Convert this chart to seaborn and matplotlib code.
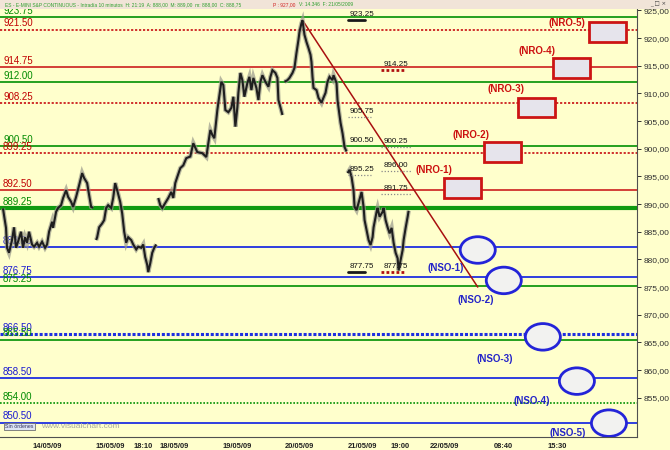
"""
ES e-mini S&P 10 min chart with support / resistance levels
"""

import numpy as np
import pandas as pd
import matplotlib
matplotlib.use("Agg")
import matplotlib.pyplot as plt
import seaborn as sns
from matplotlib.patches import Rectangle, Ellipse

# --- data ---
price_bar = [3, 4, 6, 7, 9, 12, 14, 16, 18, 21, 23, 25, 27, 29, 32, 34, 37, 39, 42, 45,
             47, 49, 52, 53, 56, 58, 61, 63, 66, 68, 71, 73, 76, 79, 82, 84, 87, 89, 91, 93,
             96, 97, 99, 102, 104, 106, 108, 111, 113, 115, 117, 120, 122, 124, 126, 128, 131,
             133, 136, 138, 141, 143, 145, 147, 148, 150, 152, 154, 156,
             158, 160, 162, 165, 168, 171, 173, 175, 177, 180, 183, 186, 190, 193, 197, 202,
             206, 208, 210, 212, 214, 217, 218, 221, 223, 225, 228, 231, 233, 235, 237, 238,
             240, 242, 244, 247, 249, 251, 253, 256, 258, 260, 262, 265, 268, 270, 272, 275,
             277, 278, 280, 282,
             284, 287, 289, 292, 294, 296, 298, 299, 301, 302, 304, 306, 308, 310, 311, 312,
             313, 316, 318, 321, 322, 325, 327, 329, 332, 333, 336, 337, 338, 340, 342, 344, 346,
             347, 349, 351, 353, 354, 356, 358, 361, 363, 364, 366, 368, 370, 372, 373, 376,
             377, 379, 382, 383, 385, 387, 389, 391, 393, 395, 397, 398, 400, 402, 403, 405,
             407, 408]
price = [889.2, 888.0, 885.7, 882.1, 881.2, 883.5, 885.8, 882.1, 883.2, 885.0, 882.1, 884.0,
         883.0, 885.0, 882.7, 882.3, 883.0, 882.3, 883.2, 882.1, 882.7, 885.0, 886.8, 885.7,
         888.6, 889.3, 889.8, 891.1, 892.5, 891.3, 890.4, 889.5, 891.3, 893.4, 895.6, 894.7,
         893.8, 891.6, 889.5, 889.3,
         883.5, 884.0, 885.8, 886.5, 887.1, 889.3, 889.8, 889.3, 891.1, 893.8, 892.5, 890.4,
         888.3, 885.0, 883.0, 884.0, 883.5, 882.7, 881.8, 882.3, 882.1, 882.7, 880.4, 879.0,
         877.7, 879.3, 881.2, 882.1, 882.7,
         891.1, 889.8, 889.3, 890.2, 891.1, 892.2, 891.1, 893.8, 894.9, 896.5, 897.0, 898.3,
         898.6, 901.0, 899.4, 899.2, 898.5, 901.0, 903.4, 902.5, 901.9, 907.0, 908.3, 912.1,
         911.5, 907.0, 906.6, 907.4, 909.4, 904.0, 907.5, 910.1, 913.7, 912.4, 909.4, 911.9,
         913.0, 910.6, 912.8, 911.0, 908.8, 912.1, 913.3, 912.1, 911.2, 913.0, 914.2, 913.7,
         912.8, 908.8, 907.5, 906.1,
         912.1, 912.4, 912.8, 913.7, 914.6, 917.3, 919.7, 921.1, 922.7, 923.2, 920.6, 919.3,
         918.2, 917.0, 915.7, 913.0, 911.0, 910.6, 909.2, 908.3, 908.8, 910.1, 912.1, 913.0,
         912.4, 913.3, 911.9, 908.8, 907.4, 904.7, 902.8, 900.3, 899.5,
         895.6, 896.2, 894.9, 892.5, 889.5, 888.9, 890.2, 892.2, 889.5, 887.1, 885.3, 883.5,
         882.6, 884.0, 885.8, 888.6, 889.3, 887.7, 888.6, 889.3, 887.1, 885.8, 884.7, 885.7,
         883.0, 881.2, 880.2, 878.0, 879.9, 881.7, 883.5, 885.7, 887.7, 888.8]
session_start = [3, 96, 158, 284, 347]

level_price = [923.75, 921.50, 914.75, 912.00, 908.25, 900.50, 899.25, 892.50, 889.25,
               882.25, 876.75, 875.25, 866.50, 865.50, 858.50, 854.00, 850.50]
level_kind = ['G', 'Rd', 'R', 'G', 'Rd', 'G', 'Rd', 'R', 'Gb',
              'B', 'B', 'G', 'Bd', 'G', 'B', 'Gd', 'B']

mark_left = [923.25, 905.75, 900.50, 895.25, 877.75]
mark_left_kind = ['black', 'dot', 'none', 'dot', 'black']
mark_right = [914.25, 900.25, 896.00, 891.75, 877.75]
mark_right_kind = ['red', 'dot', 'dot', 'dot', 'red']

trend_bar = [302, 477]
trend_price = [923.25, 875.0]

nro_names = ['(NRO-1)', '(NRO-2)', '(NRO-3)', '(NRO-4)', '(NRO-5)']
nro_bar = [462, 502, 536, 571, 607]
nro_price = [892.9, 899.4, 907.5, 914.6, 921.1]
nso_names = ['(NSO-1)', '(NSO-2)', '(NSO-3)', '(NSO-4)', '(NSO-5)']
nso_bar = [477, 503, 542, 576, 608]
nso_price = [881.7, 876.2, 866.0, 858.0, 850.4]

tick_bar = [32, 95, 133, 159, 222, 284, 347, 390, 429, 493, 547]
tick_text = ['14/05/09', '15/05/09', '18:10', '18/05/09', '19/05/09', '20/05/09',
             '21/05/09', '19:00', '22/05/09', '08:40', '15:30']

# label placement (layout only)
nro_label_pos = [(433, 896.2), (470, 902.5), (505, 910.8), (536, 917.7), (566, 922.8)]
nso_label_pos = [(445, 878.4), (475, 872.6), (494, 862.0), (531, 854.4), (567, 848.6)]

df = pd.DataFrame({'bar': price_bar, 'price': price})
df['session'] = np.searchsorted(session_start, df['bar'], side='right')

sns.set_style("white")
plt.rcParams['font.family'] = ['Liberation Sans', 'DejaVu Sans']

BG = '#FFFFCC'
fig = plt.figure(figsize=(6.7, 4.5), dpi=100, facecolor=BG)
ax = fig.add_axes([0, 13 / 450, 637 / 670, 428.5 / 450])
ax.set_facecolor(BG)
ax.set_xlim(0, 636)
ax.set_ylim(847.9, 925.35)

styles = {
    'G': dict(color='#009000', ls='-', lw=1.2),
    'Gb': dict(color='#109A10', ls='-', lw=3.0),
    'Gd': dict(color='#009000', ls=(0, (1, 1)), lw=1.2),
    'R': dict(color='#CC1F1F', ls='-', lw=1.2),
    'Rd': dict(color='#CC1F1F', ls=(0, (1.2, 1)), lw=1.3),
    'B': dict(color='#1F2FE0', ls='-', lw=1.3),
    'Bd': dict(color='#1F2FE0', ls=(0, (1, 0.6)), lw=2.2),
}
label_col = {'G': '#008A00', 'R': '#C00000', 'B': '#1A1AD0'}

for val, kind in zip(level_price, level_kind):
    ax.axhline(val, zorder=2, **styles[kind])
    ax.text(3, val + 0.25, f"{val:.2f}", color=label_col[kind[0]], fontsize=7,
            va='bottom', ha='left', zorder=3)

# trend line
ax.plot(trend_bar, trend_price, color='#A81010', lw=1.1, zorder=4)

# price bars: grey wick halo with black body
sns.lineplot(data=df, x='bar', y='price', units='session', estimator=None,
             color='#9A9A8C', lw=3.2, alpha=0.7, ax=ax, zorder=5,
             solid_joinstyle='miter', solid_capstyle='butt')
sns.lineplot(data=df, x='bar', y='price', units='session', estimator=None,
             color='#1E1E1E', lw=1.5, ax=ax, zorder=6,
             solid_joinstyle='miter', solid_capstyle='butt')

# price marks next to the bars
ul = {'black': dict(color='#1A1A1A', ls='-', lw=2.0),
      'red': dict(color='#B01010', ls=(0, (1, 0.8)), lw=2.0),
      'dot': dict(color='#8A8A8A', ls=(0, (1, 1.5)), lw=0.9)}
for vals, kinds, x0, x1 in [(mark_left, mark_left_kind, 347, 364),
                            (mark_right, mark_right_kind, 380, 405)]:
    for val, kind in zip(vals, kinds):
        if kind != 'none':
            ax.plot([x0, x1 if kind != 'dot' else x1 + 6], [val, val], zorder=6, **ul[kind])
        ax.text(x0 + 2 if x0 == 347 else x0 + 3, val + 0.35, f"{val:.2f}", fontsize=5.8,
                color='#111111', va='bottom', ha='left', zorder=7)

# resistance boxes
for name, bx, py, (lx, ly) in zip(nro_names, nro_bar, nro_price, nro_label_pos):
    ax.add_patch(Rectangle((bx - 18.5, py - 1.75), 37, 3.5, facecolor='#E6E4EC',
                           edgecolor='#CC1414', lw=2.0, zorder=8))
    ax.text(lx, ly, name, color='#CC1010', fontsize=7, fontweight='bold',
            ha='center', va='center', zorder=9)

# support ellipses
for name, bx, py, (lx, ly) in zip(nso_names, nso_bar, nso_price, nso_label_pos):
    ax.add_patch(Ellipse((bx, py), 35, 4.8, facecolor='#F2F2F0',
                         edgecolor='#2424D8', lw=2.0, zorder=8))
    ax.text(lx, ly, name, color='#2424C8', fontsize=7, fontweight='bold',
            ha='center', va='center', zorder=9)

# axes styling
sns.despine(ax=ax, left=True, top=True, right=False, bottom=False)
for side in ['right', 'bottom']:
    ax.spines[side].set_color('#505050')
    ax.spines[side].set_linewidth(0.8)
ax.yaxis.tick_right()
ax.set_yticks(np.arange(855, 926, 5))
ax.set_yticklabels([f"{v:.2f}".replace('.', ',') for v in np.arange(855, 926, 5)])
ax.tick_params(axis='y', direction='out', length=3, pad=2, labelsize=6,
               colors='#303030', width=0.7)
ax.set_xticks(tick_bar)
ax.set_xticklabels(tick_text)
ax.tick_params(axis='x', direction='out', length=3, pad=1, labelsize=5.4,
               colors='#202020', width=0.7)
for lab in ax.get_xticklabels():
    lab.set_ha('left')
    lab.set_fontweight('bold')
ax.set_xlabel('')
ax.set_ylabel('')
ax.grid(False)

# header strip
fig.add_artist(Rectangle((0, 1 - 8.5 / 450), 1, 8.5 / 450, transform=fig.transFigure,
                         facecolor='#F1E4D8', edgecolor='none'))
hy = 1 - 4.5 / 450
fig.text(5 / 670, hy, "ES - E-MINI S&P CONTINUOUS - Intradía 10 minutos  H: 21:19  A: 888,00  "
         "M: 889,00  m: 888,00  C: 888,75", fontsize=3.5, color='#2F9F2F', va='center')
fig.text(273 / 670, hy, "P : 927,00", fontsize=3.5, color='#D02020', va='center')
fig.text(299 / 670, hy, "V: 14.346  F: 21/05/2009", fontsize=3.5, color='#2F9F2F',
         va='center')
fig.text(650 / 670, hy, "_ □ ×", fontsize=4, color='#404040', va='center',
         family=['DejaVu Sans'])

# footer bits
fig.text(5 / 670, 1 - 426.5 / 450, "Sin órdenes", fontsize=3.8, color='#303060', va='center',
         bbox=dict(boxstyle='square,pad=0.25', facecolor='#DDE4F4', edgecolor='#707070',
                   lw=0.6))
fig.text(41 / 670, 1 - 426 / 450, "www.visualchart.com", fontsize=6, color='#A8A8A0',
         va='center')

fig.savefig("out.png", dpi=100, facecolor=BG)
plt.close(fig)
